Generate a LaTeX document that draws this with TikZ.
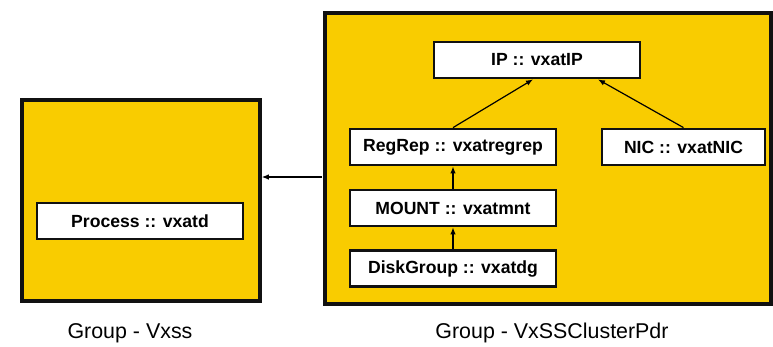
\documentclass[tikz,border=0pt]{standalone}
\usepackage{fontspec}
\setmainfont{Liberation Sans}
\usepackage{tikz}
\usetikzlibrary{arrows.meta, positioning, calc}
\definecolor{grpyellow}{HTML}{F9CC00}
\definecolor{grpline}{HTML}{111111}

\begin{document}
\begin{tikzpicture}[x=1pt, y=-1pt,
  grpbox/.style={draw=grpline, line width=3.5pt, fill=grpyellow, inner sep=0pt},
  resbox/.style={draw=grpline, line width=2.8pt, fill=white, inner sep=0pt,
              minimum height=36pt, font=\fontsize{17.6}{20}\selectfont\bfseries},
  grplabel/.style={font=\fontsize{21.4}{25}\selectfont},
  arr/.style={-{Latex[length=7pt, width=5.5pt]}, line width=1.2pt}
]
\useasboundingbox[fill=white] (0,0) rectangle (773,346);

% service groups
\node[grpbox, minimum width=238, minimum height=201] (vxss) at (141,200.5) {};
\node[grpbox, minimum width=446, minimum height=291] (pdr)  at (548,158.5) {};

% resources
\node[resbox, minimum width=206] (proc)  at (140,221)   {Process :: vxatd};
\node[resbox, minimum width=206] (ip)    at (537,60)    {IP :: vxatIP};
\node[resbox, minimum width=206] (reg)   at (453,147)   {RegRep :: vxatregrep};
\node[resbox, minimum width=163] (nic)   at (683.5,147) {NIC :: vxatNIC};
\node[resbox, minimum width=206] (mnt)   at (453,208)   {MOUNT :: vxatmnt};
\node[resbox, minimum width=206] (dg)    at (453,268.5) {DiskGroup :: vxatdg};

\node[grplabel] (lvxss) at (130,333) {Group - Vxss};
\node[grplabel] (lpdr)  at (552,333) {Group - VxSSClusterPdr};

% dependencies
\draw[arr] (reg.north) -- ($(ip.south)+(-4,0)$);
\draw[arr] (nic.north) -- ($(ip.south)+(61,0)$);
\draw[arr] (mnt) -- (reg);
\draw[arr] (dg) -- (mnt);

\coordinate (link) at (322,177);
\draw[arr] (link) -- (link -| vxss.east);
\end{tikzpicture}
\end{document}
